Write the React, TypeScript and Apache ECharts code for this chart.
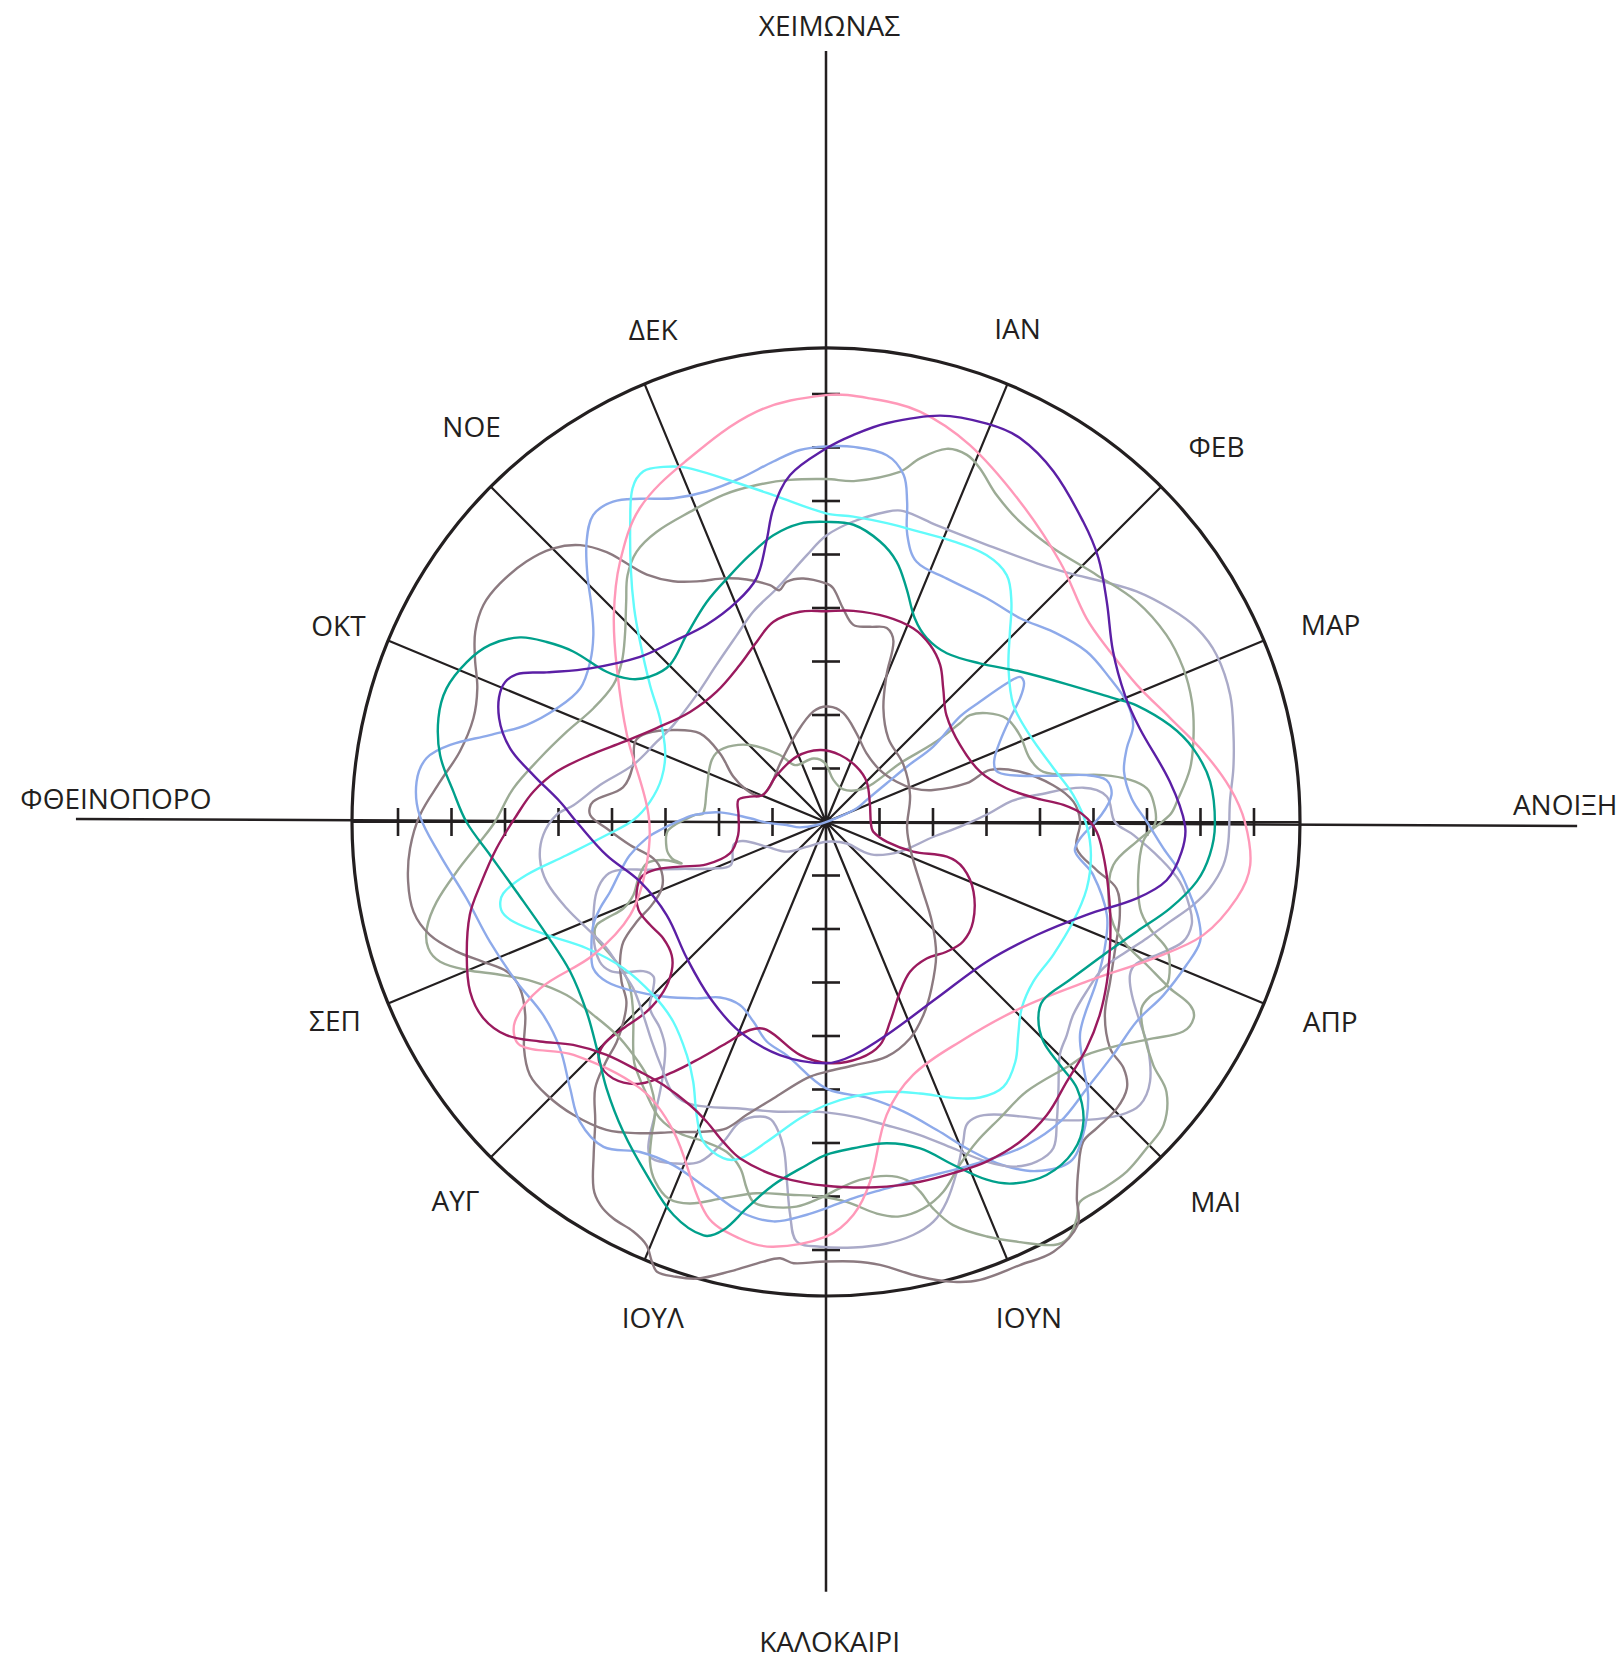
import React, { useEffect, useRef } from "react";
import * as echarts from "echarts";

// [angle in degrees clockwise from north, radius in axis units]
type P = [number, number];

const MONTHS = ["ΙΑΝ", "ΦΕΒ", "ΜΑΡ", "ΑΠΡ", "ΜΑΙ", "ΙΟΥΝ", "ΙΟΥΛ", "ΑΥΓ", "ΣΕΠ", "ΟΚΤ", "ΝΟΕ", "ΔΕΚ"];
const SEASONS = ["ΧΕΙΜΩΝΑΣ", "ΑΝΟΙΞΗ", "ΚΑΛΟΚΑΙΡΙ", "ΦΘΕΙΝΟΠΟΡΟ"];
const TICK_VALUES = [1, 2, 3, 4, 5, 6, 7, 8];
const RADIUS_MAX = 8.86;

const PINK_PTS: P[] = [[0,7.98],[5.9,7.96],[12.9,7.87],[20.9,7.54],[31.2,7.0],[42,6.54],[52,6.18],[59,6.19],[66.2,6.35],[73.2,6.72],[79.4,7.17],[85.2,7.58],[90,7.83],[95.8,7.97],[100.5,7.81],[106.7,7.36],[112.6,6.63],[121.5,5.71],[133.8,5.03],[148.6,4.81],[161,5.0],[168.3,5.59],[173,6.77],[176,7.36],[180,7.75],[187.1,8.0],[191.7,7.95],[196.9,7.68],[206.2,6.45],[214.9,6.07],[227.3,6.42],[233.9,7.08],[237.3,6.91],[239.8,6.18],[240.25,5.01],[244.6,4.05],[256.5,3.45],[272.3,3.32],[293.6,4.06],[306.3,4.85],[314.3,5.54],[321.6,6.2],[329.3,6.82],[338.6,7.23],[350.4,7.78]];

const PURPLE_PTS: P[] = [[0,6.98],[4,7.25],[8.65,7.54],[15.7,7.89],[22,8.03],[26.8,8.04],[33,7.81],[40.6,7.39],[45.9,7.09],[51.9,6.67],[59.3,6.24],[67,6.07],[73.4,6.12],[83.3,6.47],[90.5,6.71],[94.8,6.67],[99.7,6.46],[103.8,5.98],[109.6,5.17],[118.2,4.47],[131,3.98],[147.9,3.89],[164.1,4.14],[173.3,4.39],[180,4.51],[191.2,4.44],[202.3,4.24],[213.3,3.94],[225.6,3.64],[239.7,3.45],[252.2,3.65],[261.4,4.15],[270,4.66],[274.4,4.99],[279.1,5.54],[283.1,6.06],[287.6,6.41],[292.4,6.56],[295.5,6.41],[298.2,5.92],[303.1,5.26],[311.6,4.65],[319.75,4.42],[328.8,4.31],[337.9,4.44],[344.1,4.74],[348,5.36],[350.5,5.95],[354.1,6.52]];

const TEAL_PTS: P[] = [[0,5.61],[5.3,5.58],[10.9,5.34],[15.2,5.04],[19,4.62],[23.6,4.15],[28.7,3.92],[35.6,3.88],[44.1,4.13],[52.2,4.59],[60.7,5.23],[66.7,5.85],[69.4,6.2],[74.3,6.68],[78.7,7.0],[84,7.22],[90.4,7.27],[94.9,7.2],[99.1,7.02],[104.1,6.63],[109.4,6.16],[115.6,5.75],[122.9,5.43],[129.3,5.25],[132.8,5.41],[135.3,5.78],[136.1,6.31],[136.7,6.84],[139.3,7.38],[143.1,7.7],[148,7.78],[152.6,7.61],[155.8,7.33],[159.6,6.84],[163.9,6.35],[169.3,6.11],[175.2,6.12],[180,6.22],[183.2,6.42],[188.3,6.86],[191.6,7.37],[194.1,7.86],[196.5,8.06],[201.2,7.88],[206.9,7.4],[213.2,6.92],[219.5,6.45],[225.4,6.02],[231.6,5.71],[239.7,5.54],[248,5.63],[257.3,5.93],[264.4,6.31],[270,6.72],[274.7,6.99],[279.8,7.32],[285,7.5],[289.4,7.52],[294,7.35],[297.8,7.1],[301.1,6.68],[302.8,6.21],[304,5.7],[304.4,4.97],[306.1,4.54],[309.5,4.27],[315.2,4.14],[323.3,4.36],[331.6,4.68],[338.8,4.95],[344.1,5.19],[349.6,5.45],[355,5.6]];

const CYAN_PTS: P[] = [[0,5.77],[5.1,5.73],[11.5,5.7],[17.9,5.7],[24.4,5.76],[31,5.82],[36.2,5.72],[40.1,5.38],[44.5,4.9],[49.9,4.46],[58,4.13],[66.9,4.14],[76.7,4.37],[83.8,4.65],[90.7,4.87],[97.1,4.99],[104.3,5.03],[112,4.98],[120.3,4.92],[127.6,4.89],[133.6,5.05],[137.9,5.36],[141.7,5.71],[146.2,5.96],[150.8,5.9],[155.2,5.68],[160.9,5.37],[167.3,5.17],[174.3,5.16],[180,5.29],[185,5.56],[190.5,6.08],[194.3,6.49],[197,6.57],[201,6.4],[203.8,5.99],[207.1,5.45],[210.9,5.07],[217.4,4.7],[225,4.57],[234.2,4.67],[242.2,5.06],[248,5.63],[252.3,6.13],[254.85,6.29],[257.5,6.18],[260,5.68],[262.7,4.89],[266.6,4.11],[270.6,3.6],[276.6,3.31],[284.9,3.18],[293.6,3.28],[302,3.66],[307.9,4.17],[314.1,4.84],[318.1,5.37],[322.4,5.98],[326.9,6.7],[329.9,7.21],[332.5,7.39],[335.4,7.3],[338.5,7.12],[343.4,6.7],[350.85,6.19]];

const BLUE_BIG_PTS: P[] = [[0,7.02],[4.2,7.03],[9.4,6.95],[12.6,6.65],[14.2,6.18],[15.8,5.58],[19.2,5.15],[26.3,5.08],[35.7,5.15],[43.6,5.26],[50.1,5.54],[56.8,5.82],[63.2,5.95],[68.2,6.05],[72.5,6.02],[76.2,5.79],[80.4,5.65],[85.6,5.73],[90,6.0],[94.5,6.33],[98,6.68],[101.3,6.94],[104.5,7.19],[107.7,7.34],[111.6,7.25],[117.15,7.09],[122.7,6.9],[129,6.91],[135.6,6.97],[142,7.11],[148.2,7.11],[153.55,7.02],[158.9,6.94],[165.2,6.89],[170.6,6.94],[175.8,7.05],[180,7.22],[182.8,7.35],[187.5,7.53],[192.4,7.46],[198,7.2],[204,7.02],[209.4,7.08],[214.4,7.36],[219.4,7.25],[223.9,6.9],[229.6,6.53],[235.7,6.4],[242.7,6.51],[250.4,6.67],[258,6.87],[265.1,7.24],[271,7.6],[275.6,7.69],[279.1,7.56],[281.6,7.17],[284.5,6.49],[288,5.88],[292.9,5.46],[298.5,5.23],[304.2,5.33],[308.8,5.58],[312.4,5.93],[316,6.42],[319.5,6.89],[322.8,7.2],[326.4,7.19],[330.1,6.97],[334.75,6.69],[340.1,6.57],[345.95,6.62],[351.7,6.81],[356,6.97]];

const BLUE_SMALL_PTS: P[] = [[69,0.28],[66,0.63],[61.6,0.86],[57.5,1.34],[55.6,1.83],[54.9,2.45],[51.8,3.19],[52,3.65],[52.5,4.26],[53.2,4.53],[55,4.52],[57.5,4.3],[60.6,3.95],[65.2,3.58],[70.2,3.34],[73.9,3.35],[76.6,3.73],[78.5,4.34],[79.8,4.95],[81.5,5.3],[84.6,5.36],[88.5,5.15],[93.7,4.76],[96.8,4.69],[101.2,5.09],[108.3,5.53],[114.4,5.72],[120.5,5.87],[129.5,6.16],[133.4,6.62],[136.5,7.12],[140.6,7.57],[144.3,7.82],[148.9,7.62],[152.7,7.22],[156.3,6.7],[160.2,6.12],[165.05,5.6],[171,5.23],[180,4.98],[189.6,4.42],[195.1,4.25],[200,3.97],[205.2,3.78],[211.1,3.83],[216.3,4.09],[223,4.46],[229.4,4.83],[233.9,5.07],[237.8,5.14],[241.7,4.98],[246.1,4.76],[249.1,4.52],[252.1,4.24],[256.4,3.96],[260.4,3.72],[264.8,3.37],[267.8,3.04],[269.5,2.85],[273,2.48],[275.2,1.99],[272.8,1.42],[269.4,1.11],[265.6,0.74],[258.4,0.5],[252,0.18]];

const MAGENTA_BIG_PTS: P[] = [[0,3.94],[7.4,3.98],[16.5,4.0],[24.3,3.97],[30.4,3.84],[36,3.63],[41.3,3.32],[48.4,3.01],[60.1,2.89],[71.9,3.03],[79.4,3.43],[83.6,3.96],[85.9,4.45],[88.4,4.81],[92,5.06],[96.8,5.22],[102,5.38],[108.1,5.59],[114,5.81],[119.6,6.04],[125.2,6.26],[130.96,6.45],[137.2,6.62],[143,6.86],[148.75,6.99],[154.7,7.02],[160.1,6.98],[165.35,6.95],[170.55,6.91],[175.7,6.85],[180,6.8],[183.1,6.76],[188.5,6.67],[194.3,6.49],[197.8,6.28],[201.7,6.03],[205.7,5.87],[211.7,5.78],[216.7,5.82],[223.3,5.98],[228.6,6.3],[232.5,6.74],[236.3,7.18],[240.2,7.38],[244.5,7.37],[249.7,7.16],[255.4,6.88],[259.8,6.56],[265.4,6.18],[271.3,5.78],[275.9,5.5],[280.6,5.12],[285.8,4.59],[291.6,4.07],[299,3.62],[309,3.27],[320,3.18],[331.3,3.35],[339,3.61],[345.3,3.87],[352.95,3.96]];

const MAGENTA_SMALL_PTS: P[] = [[355.2,1.35],[11.8,1.28],[29,1.18],[45.2,1.07],[67,0.89],[91.7,0.84],[101.5,0.9],[108,1.2],[108.8,1.72],[106,2.35],[108.6,2.71],[115.3,3.05],[124.1,3.32],[131.1,3.4],[137.1,3.31],[143.6,3.17],[150.7,3.21],[156.4,3.46],[162.2,3.92],[166.4,4.29],[171.8,4.46],[179,4.51],[186.4,4.38],[195.9,4.04],[200.1,4.14],[204.2,4.53],[208.1,5.01],[211.4,5.47],[215.4,6.0],[219.7,6.23],[223.4,6.17],[224.96,5.89],[224.5,5.41],[223.4,4.88],[223.8,4.39],[225.9,4.02],[229.2,3.81],[234.4,3.74],[239.7,3.81],[244.9,3.87],[249.8,3.77],[253.5,3.59],[254.4,3.29],[253,2.85],[250.5,2.37],[251.9,1.89],[261.6,1.66],[274.6,1.64],[284.1,1.69],[288.4,1.5],[293.3,1.28],[313.6,1.27],[335.8,1.34]];

const MAUVE_A_PTS: P[] = [[0,4.46],[1.8,4.37],[4.6,4.0],[7.9,3.72],[12.7,3.74],[17.4,3.8],[20.5,3.6],[22.4,2.97],[26.8,2.38],[36.7,1.95],[53.6,1.8],[72.2,1.65],[94.5,1.52],[111.1,1.72],[124.7,2.18],[133.3,2.72],[140.4,3.23],[147.6,3.68],[153.2,4.04],[158.8,4.34],[165.5,4.53],[173.6,4.58],[180,4.67],[184.3,4.8],[190.8,5.26],[195.15,5.67],[198,6.02],[201.1,6.2],[206.2,6.46],[210.9,6.78],[215.5,7.07],[220.8,7.23],[225.65,7.3],[229.5,7.28],[233.2,7.05],[237.3,6.68],[241.5,6.51],[244.9,6.59],[247.8,6.92],[250.7,7.32],[254.1,7.7],[257.7,7.89],[261.9,7.89],[266.4,7.79],[271,7.59],[276,7.25],[280.9,6.97],[286.4,6.87],[290.97,6.98],[295,7.24],[298.5,7.46],[302.35,7.58],[306.2,7.55],[311,7.42],[315.1,7.22],[318.4,6.92],[320.9,6.5],[322.4,6.1],[324.1,5.71],[327.6,5.33],[332.4,5.08],[337.2,4.94],[341.9,4.77],[346.7,4.55],[348.6,4.42],[350.7,4.55],[354.7,4.57]];

const MAUVE_B_PTS: P[] = [[305.1,2.88],[302.9,2.36],[296.1,1.93],[292,1.6],[291.5,1.33],[302,1.24],[321.9,1.39],[341.7,1.75],[353.5,2.08],[1.2,2.16],[9.1,2.06],[19.1,1.75],[30.6,1.49],[46.1,1.4],[60.3,1.52],[68.9,1.75],[73.4,2.09],[74.6,2.73],[72.4,3.22],[75.5,3.75],[80.8,4.3],[85.3,4.64],[90,4.75],[96,4.71],[100.1,5.14],[102.9,5.57],[107.55,5.76],[113.6,5.9],[119.3,6.09],[124.7,6.34],[128.55,6.79],[129.6,7.22],[131.5,7.51],[134.6,7.63],[138.5,7.64],[141.2,7.67],[143.9,8.01],[146.3,8.45],[148,8.88],[152.1,9.09],[156.35,9.04],[161.4,9.03],[164.5,8.92],[168.3,8.68],[173.05,8.34],[176.4,8.23],[180.8,8.22],[184.2,8.27],[186,8.2],[188.1,8.3],[192.05,8.59],[195.8,8.87],[198.6,8.96],[200.6,8.98],[201.6,8.84],[203,8.59],[205.2,8.46],[208.2,8.41],[210.5,8.31],[212.4,8.11],[214.9,7.59],[217.6,7.07],[220.9,6.59],[222.5,6.1],[223.6,5.67],[225.4,5.32],[228,5.02],[232,4.85],[235.9,4.65],[239.4,4.4],[242.2,4.0],[244.5,3.61],[248,3.31],[253.2,3.21],[258.1,3.3],[263.3,3.69],[268.3,4.1],[271.7,4.41],[275,4.37],[279.7,3.85],[286.5,3.76],[292.8,3.87],[296.3,3.74],[301.1,3.33]];

const LAVENDER_BIG_PTS: P[] = [[0,5.35],[5.2,5.64],[11.1,5.91],[14,5.99],[20.4,5.92],[30.1,5.99],[39.2,6.24],[44.45,6.51],[49.1,6.86],[53.4,7.23],[58.2,7.57],[62.4,7.82],[66.85,7.94],[72.55,7.92],[77.9,7.79],[82.5,7.68],[87.1,7.56],[92.8,7.53],[96.2,7.47],[99.8,7.28],[102.7,7.04],[106.2,6.69],[109.9,6.38],[113.3,6.12],[117.8,5.86],[123.1,5.81],[127.95,5.86],[131.5,6.01],[134.9,6.17],[138.9,6.61],[142.4,7.07],[145.1,7.43],[148.2,7.47],[151.5,7.33],[154.7,7.02],[158.7,6.55],[163.3,6.11],[168.7,5.78],[174.7,5.53],[181.2,5.42],[190.3,5.5],[196.7,5.59],[205.1,5.84],[209.4,5.82],[213.7,5.53],[218.4,5.24],[223.4,4.97],[229.2,4.76],[234.6,4.72],[240.1,4.73],[245.1,4.86],[251.6,5.11],[257.9,5.34],[262.8,5.39],[267.4,5.29],[271.5,5.04],[273.8,4.73],[279.3,4.28],[286.5,3.76],[295.4,3.5],[302.4,3.38],[314.5,3.39],[325.1,3.58],[334.5,3.87],[340.9,4.16],[348.1,4.46],[355.9,5.0]];

const LAVENDER_SMALL_PTS: P[] = [[178,0.37],[135.9,0.56],[128.5,0.89],[123.1,1.13],[111.8,1.49],[97.8,2.03],[92,2.51],[87,3.05],[83.5,3.5],[82.7,3.97],[82.4,4.85],[84.8,5.27],[90,5.4],[92.4,5.75],[96.2,6.28],[99.6,6.71],[103.3,6.99],[105.7,7.1],[108.5,7.04],[111.5,6.71],[114.5,6.38],[116.7,6.36],[119.5,6.57],[122.45,6.95],[125.1,7.36],[128.7,7.76],[132,7.9],[134.9,7.76],[138.8,7.4],[142.7,7.0],[146.6,6.59],[150.2,6.3],[152.9,6.19],[155.1,6.24],[156.75,6.5],[159.5,6.98],[162.4,7.45],[165,7.74],[168.1,7.89],[171.8,7.96],[176.3,7.97],[180.8,7.94],[184,7.86],[185.2,7.38],[186.2,6.76],[187.4,6.15],[190,5.69],[192.6,5.64],[196,5.83],[197.8,6.28],[200.35,6.77],[204.1,6.99],[207.4,7.08],[208.8,6.89],[210.3,6.34],[212.3,5.74],[215.4,5.19],[218.8,4.95],[223.4,4.79],[226.1,4.48],[228.1,4.33],[230.8,4.41],[233.4,4.72],[235.4,4.9],[238.3,4.97],[242.7,4.88],[248.2,4.68],[253.1,4.48],[256.4,4.22],[256.9,3.95],[255.1,3.47],[252.2,2.87],[247.6,2.28],[245.7,1.95],[256.1,1.78],[257.1,1.59],[247.4,1.2],[233,0.92],[218.1,0.59]];

const GREEN_BIG_PTS: P[] = [[0,6.41],[5,6.4],[11.9,6.69],[14.5,7.02],[17.9,7.33],[21,7.35],[23.5,7.21],[27.6,6.89],[32.9,6.68],[39.7,6.65],[47.6,6.85],[54.65,7.12],[61.2,7.26],[66.7,7.27],[71.8,7.2],[76.7,7.06],[81.6,6.88],[86.7,6.57],[88.8,6.43],[93.6,5.82],[98.5,5.43],[105.1,5.47],[109.7,5.71],[112.25,6.07],[114,6.56],[115.8,7.14],[116.7,7.62],[118.1,7.79],[120.4,7.74],[123.5,7.33],[127.2,6.9],[131.8,6.53],[134.9,6.44],[143.35,6.28],[149.6,6.42],[154.8,6.61],[158.7,6.88],[162.4,7.25],[165.9,7.45],[169.4,7.5],[172.6,7.38],[176.9,7.11],[180.9,7.0],[185.5,7.0],[190.6,7.06],[195.3,7.29],[199.6,7.57],[202.7,7.63],[205.4,7.44],[207.4,7.15],[209.1,6.7],[210.3,6.34],[212.3,6.04],[215.3,5.8],[219.6,5.65],[224.5,5.58],[230.3,5.65],[236.3,5.83],[241.4,6.23],[244.9,6.73],[247.6,7.26],[250.1,7.67],[252.4,7.8],[255.1,7.72],[258.4,7.43],[262.3,6.97],[266.7,6.48],[270,6.19],[276.1,5.88],[282.55,5.48],[289.2,5.13],[296,4.84],[302.8,4.73],[308.1,4.85],[312.9,5.13],[317.8,5.56],[321.2,5.92],[325,6.17],[329.7,6.28],[336.3,6.33],[342.6,6.41],[348.4,6.43],[354,6.43]];

const GREEN_SMALL_PTS: P[] = [[274,2.3],[285,2.31],[298.5,2.43],[305.7,2.36],[315.4,2.02],[325.5,1.52],[331.5,1.21],[348.7,1.21],[359,1.1],[9.9,0.8],[27.9,0.69],[45.3,0.85],[50.75,1.14],[51.6,1.77],[53.8,2.49],[53.6,3.11],[53.4,3.35],[55.9,3.63],[60.15,3.89],[65.85,3.97],[72.7,3.99],[77,4.17],[79.2,4.71],[80.4,5.26],[82.1,5.74],[84,6.03],[86.4,6.13],[90,6.16],[93.5,5.94],[99.6,5.92],[105.4,6.09],[108.2,6.37],[110.35,6.79],[112.6,6.96],[115.6,7.06],[118.3,6.88],[120.6,6.85],[123.45,7.11],[126.6,7.62],[128.4,8.12],[131.9,8.48],[135.5,8.55],[139.3,8.62],[142.9,8.59],[146.2,8.54],[147.7,8.77],[149.8,9.0],[151.7,8.98],[155.2,8.65],[158.8,8.31],[162.5,7.9],[164.5,7.5],[165.7,7.13],[167.3,6.86],[170.3,6.71],[174.6,6.72],[177.8,6.85],[180.9,7.03],[184.4,7.21],[188.3,7.27],[190.8,7.23],[192.2,7.01],[193.9,6.67],[196.8,6.44],[201,6.39],[205.1,6.43],[209.3,6.35],[213.3,6.1],[218.2,5.78],[220.4,5.56],[224.95,5.1],[229.7,4.8],[233.6,4.71],[237.3,4.72],[241.8,4.79],[243.9,4.81],[245.8,4.7],[246.3,4.48],[246.9,4.12],[249.25,3.85],[253.3,3.66],[257,3.44],[256.85,3.12],[254,2.81],[256.75,2.96],[260.6,3.02],[267.1,2.95],[273.1,2.45]];

// Layout (not data): label anchors as [angle, radius]
const SEASON_LABEL_POS: P[] = [[0.25, 14.89], [88.6, 13.82], [179.75, 15.31], [271.9, 13.28]];
const MONTH_LABEL_POS: P[] = [[21.2, 9.9], [46.1, 10.13], [68.6, 10.13], [111.5, 10.13], [134.2, 10.16], [157.7, 10.0], [199.3, 9.8], [224.4, 9.9], [248, 9.9], [292, 9.83], [318.2, 9.94], [340.7, 9.77]];

const INK = "#231f20";
const FONT = "'Open Sans', 'Noto Sans', 'DejaVu Sans', sans-serif";

const CURVES = [
  { name: "lavender-small", color: "#aaaac8", pts: LAVENDER_SMALL_PTS },
  { name: "green-small", color: "#9cab95", pts: GREEN_SMALL_PTS },
  { name: "mauve-b", color: "#8c7a80", pts: MAUVE_B_PTS },
  { name: "blue-small", color: "#8eaaea", pts: BLUE_SMALL_PTS },
  { name: "magenta-small", color: "#9a1a5e", pts: MAGENTA_SMALL_PTS },
  { name: "lavender-big", color: "#aaaac8", pts: LAVENDER_BIG_PTS },
  { name: "green-big", color: "#9cab95", pts: GREEN_BIG_PTS },
  { name: "mauve-a", color: "#8c7a80", pts: MAUVE_A_PTS },
  { name: "blue-big", color: "#8eaaea", pts: BLUE_BIG_PTS },
  { name: "cyan", color: "#62fbfb", pts: CYAN_PTS },
  { name: "pink", color: "#ff99b9", pts: PINK_PTS },
  { name: "teal", color: "#00a08b", pts: TEAL_PTS },
  { name: "magenta-big", color: "#9a1a5e", pts: MAGENTA_BIG_PTS },
  { name: "purple", color: "#5b1fa5", pts: PURPLE_PTS },
];

export default function App() {
  const ref = useRef<HTMLDivElement>(null);

  useEffect(() => {
    const el = ref.current;
    if (!el) return;
    const chart = echarts.init(el, null, { renderer: "svg" });

    const series = CURVES.map((c) => ({
      type: "custom",
      name: c.name,
      coordinateSystem: "polar",
      silent: true,
      z: 3,
      data: [[0, 0]],
      renderItem: (_params: any, api: any) => {
        const points = c.pts.map(([a, r]) => {
          const p = api.coord([r, a]);
          return [p[0], p[1]];
        });
        return {
          type: "polygon",
          shape: { points, smooth: 0.35 },
          style: { fill: "none", stroke: c.color, lineWidth: 2.4 },
        };
      },
    }));

    chart.setOption({
      animation: false,
      backgroundColor: "#ffffff",
      polar: { center: [826, 822], radius: 474 },
      angleAxis: {
        type: "value",
        min: 0,
        max: 360,
        interval: 22.5,
        startAngle: 90,
        clockwise: true,
        axisLine: { show: true, lineStyle: { color: INK, width: 3.2 } },
        axisTick: { show: false },
        axisLabel: { show: false },
        splitLine: { show: true, lineStyle: { color: INK, width: 2.2 } },
      },
      radiusAxis: {
        type: "value",
        min: 0,
        max: RADIUS_MAX,
        axisLine: { show: false },
        axisTick: { show: false },
        axisLabel: { show: false },
        splitLine: { show: false },
      },
      series,
    } as any);

    const toPx = (r: number, a: number): number[] => {
      let p: any = null;
      try {
        p = chart.convertToPixel({ polarIndex: 0 } as any, [r, a]);
      } catch (e) {
        p = null;
      }
      if (!p || isNaN(p[0])) {
        const rad = (a * Math.PI) / 180;
        const k = (474 / RADIUS_MAX) * r;
        p = [826 + k * Math.sin(rad), 822 - k * Math.cos(rad)];
      }
      return [p[0], p[1]];
    };

    const elements: any[] = [];
    const line = (a: number[], b: number[], w: number) => ({
      type: "line",
      silent: true,
      z: 1,
      shape: { x1: a[0], y1: a[1], x2: b[0], y2: b[1] },
      style: { stroke: INK, lineWidth: w },
    });

    // cardinal axes extending beyond the circle
    elements.push(line(toPx(14.41, 0), toPx(14.39, 180), 2.5));
    elements.push(line(toPx(14.02, 270.23), toPx(14.04, 90.3), 2.5));

    // ticks on the four half-axes
    [0, 90, 180, 270].forEach((dir) => {
      TICK_VALUES.forEach((v) => {
        const p = toPx(v, dir);
        if (dir === 0 || dir === 180) {
          elements.push(line([p[0] - 14, p[1]], [p[0] + 14, p[1]], 2.6));
        } else {
          elements.push(line([p[0], p[1] - 14], [p[0], p[1] + 14], 2.6));
        }
      });
    });

    const text = (t: string, pos: number[]) => ({
      type: "text",
      silent: true,
      z: 5,
      x: pos[0],
      y: pos[1],
      style: {
        text: t,
        fill: INK,
        fontSize: 28,
        fontFamily: FONT,
        align: "center",
        verticalAlign: "middle",
      },
    });

    SEASONS.forEach((s, i) => {
      const [a, r] = SEASON_LABEL_POS[i];
      elements.push(text(s, toPx(r, a)));
    });
    MONTHS.forEach((m, i) => {
      const [a, r] = MONTH_LABEL_POS[i];
      elements.push(text(m, toPx(r, a)));
    });

    chart.setOption({ graphic: { elements } } as any);

    return () => {
      chart.dispose();
    };
  }, []);

  return (
    <div
      ref={ref}
      style={{ position: "absolute", left: 0, top: 0, width: 1621, height: 1659 }}
    />
  );
}
